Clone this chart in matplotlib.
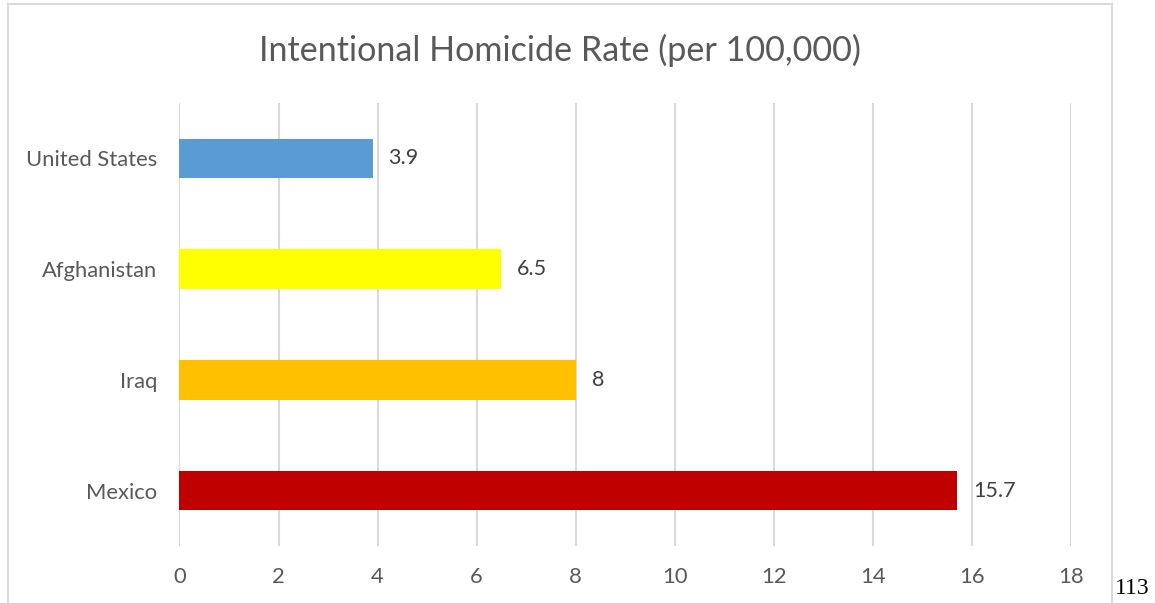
import matplotlib.pyplot as plt
from matplotlib.lines import Line2D

# Data
countries = ["United States", "Afghanistan", "Iraq", "Mexico"]
rates = [3.9, 6.5, 8, 15.7]
value_labels = ["3.9", "6.5", "8", "15.7"]
colors = ["#5b9bd5", "#ffff00", "#ffc000", "#c00000"]
xticks = [0, 2, 4, 6, 8, 10, 12, 14, 16, 18]

plt.rcParams['font.family'] = ['Lato', 'DejaVu Sans']

fig = plt.figure(figsize=(11.55, 6.03), dpi=100)
ax = fig.add_axes([0.1554, 0.0945, 0.7719, 0.7347])

ypos = list(range(len(countries)))
ax.barh(ypos, rates, height=0.355, color=colors, zorder=3)
ax.set_ylim(len(countries) - 0.5, -0.5)
ax.set_xlim(0, 18)

for y, v, lab in zip(ypos, rates, value_labels):
    ax.text(v + 0.32, y, lab, va="center", ha="left", fontsize=15.5, color="#404040")

ax.set_yticks(ypos)
ax.set_yticklabels(countries, fontsize=15.8, color="#595959")
ax.set_xticks(xticks)
ax.set_xticklabels([str(t) for t in xticks], fontsize=15.8, color="#595959")
ax.tick_params(axis="both", length=0)
ax.tick_params(axis="y", pad=16)
ax.tick_params(axis="x", pad=15)
ax.grid(axis="x", color="#d9d9d9", linewidth=1.5, zorder=0)
for s in ax.spines.values():
    s.set_visible(False)

fig.text(560 / 1155, 1 - 50 / 603, "Intentional Homicide Rate (per 100,000)",
         ha="center", va="center", fontsize=24.6, color="#595959")

# chart border (cut off at the bottom)
bc = "#d9d9d9"
W, H = 1155, 603
fig.add_artist(Line2D([8 / W, 8 / W], [0, 1 - 4 / H], color=bc, lw=1.5))
fig.add_artist(Line2D([8 / W, 1112 / W], [1 - 4 / H, 1 - 4 / H], color=bc, lw=1.5))
fig.add_artist(Line2D([1112 / W, 1112 / W], [0, 1 - 4 / H], color=bc, lw=1.5))

# page number
fig.text(1132 / W, 1 - 588 / H, "113", ha="center", va="center", fontsize=17,
         family=["Liberation Serif"], color="black")

fig.savefig("out.png", dpi=100)
